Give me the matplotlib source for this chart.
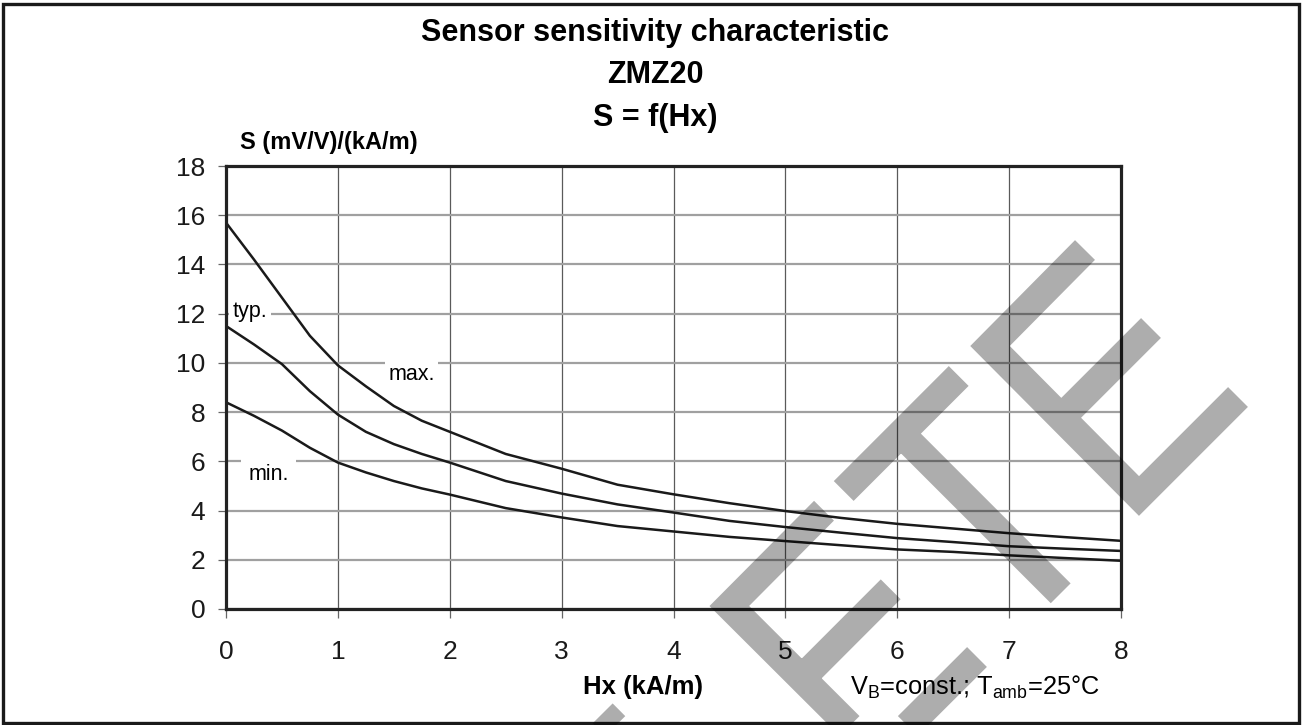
import matplotlib
matplotlib.use('Agg')
import matplotlib.pyplot as plt
from matplotlib.lines import Line2D
from matplotlib.patches import Rectangle

plt.rcParams['font.family'] = ['Liberation Sans', 'DejaVu Sans']
plt.rcParams['mathtext.fontset'] = 'custom'
plt.rcParams['mathtext.rm'] = 'Liberation Sans'

hx = [0, 0.25, 0.5, 0.75, 1, 1.25, 1.5, 1.75, 2, 2.5, 3, 3.5, 4, 4.5, 5, 5.5, 6, 6.5, 7, 7.5, 8]
s_max = [15.7, 14.2, 12.65, 11.1, 9.9, 9.05, 8.25, 7.65, 7.2, 6.3, 5.7, 5.05, 4.66, 4.3,
         3.98, 3.7, 3.46, 3.27, 3.08, 2.92, 2.77]
s_typ = [11.5, 10.75, 9.95, 8.85, 7.9, 7.2, 6.7, 6.3, 5.95, 5.2, 4.69, 4.25, 3.92, 3.58,
         3.33, 3.1, 2.88, 2.72, 2.55, 2.45, 2.36]
s_min = [8.4, 7.85, 7.25, 6.55, 5.95, 5.55, 5.2, 4.9, 4.65, 4.1, 3.72, 3.37, 3.15, 2.93,
         2.76, 2.59, 2.42, 2.32, 2.18, 2.07, 1.96]

x_ticks = [0, 1, 2, 3, 4, 5, 6, 7, 8]
y_ticks = [0, 2, 4, 6, 8, 10, 12, 14, 16, 18]

# Wasserzeichen (Pixel im Bild, y nach unten)
W, H = 1302, 725
wm_strokes = [
    [(602.7, 713.3), (660, 771)],
    [(824, 510.7), (729.3, 606), (878.7, 755), (977, 657)],
    [(801.7, 678.4), (890.7, 589.3)],
    [(843.7, 491), (958.7, 376)],
    [(901, 433.6), (1060.7, 593.3)],
    [(1085, 250), (990, 346), (1139, 496), (1238, 397)],
    [(1061.5, 417.5), (1151, 328)],
]

fig = plt.figure(figsize=(W / 100, H / 100), dpi=100)
ax = fig.add_axes([226 / W, 1 - 609 / H, (1121 - 226) / W, (609 - 166) / H])

ax.plot(hx, s_max, color='#1a1a1a', lw=1.8, zorder=2)
ax.plot(hx, s_typ, color='#1a1a1a', lw=1.8, zorder=2)
ax.plot(hx, s_min, color='#1a1a1a', lw=1.8, zorder=2)

ax.set_xlim(0, 8)
ax.set_ylim(0, 18)
ax.set_xticks(x_ticks)
ax.set_yticks(y_ticks)
ax.set_axisbelow(True)
ax.yaxis.grid(True, color='#a0a0a0', lw=1.6)
ax.xaxis.grid(True, color='#5a5a5a', lw=0.9)
for s in ax.spines.values():
    s.set_linewidth(2.3)
    s.set_color('#222222')
ax.tick_params(axis='x', direction='out', length=6.5, width=0.9, color='#666666',
               labelsize=19, pad=16, labelcolor='#1a1a1a')
ax.tick_params(axis='y', direction='out', length=6, width=0.9, color='#666666',
               labelsize=19, pad=9, labelcolor='#1a1a1a')

# Beschriftung der Kurven
box = dict(facecolor='white', edgecolor='none', pad=2.5)
ax.text(0.06, 11.85, 'typ.', fontsize=15.5, va='baseline', bbox=box, zorder=3)
ax.text(1.45, 9.3, 'max.', fontsize=15.5, va='baseline', bbox=box, zorder=3)
ax.text(0.2, 5.24, 'min.', fontsize=15.5, va='baseline',
        bbox=dict(facecolor='white', edgecolor='none', pad=5), zorder=3)

# Titel und Achsentitel
fig.text(0.503, 1 - 33 / H, 'Sensor sensitivity characteristic', ha='center', va='center',
         fontsize=22, fontweight='bold')
fig.text(0.503, 1 - 75 / H, 'ZMZ20', ha='center', va='center', fontsize=22, fontweight='bold')
fig.text(0.503, 1 - 118 / H, 'S = f(Hx)', ha='center', va='center', fontsize=22, fontweight='bold')
fig.text(240 / W, 1 - 143 / H, 'S (mV/V)/(kA/m)', ha='left', va='center', fontsize=17, fontweight='bold')
fig.text(583 / W, 1 - 687 / H, 'Hx (kA/m)', ha='left', va='center', fontsize=18.5, fontweight='bold')
fig.text(850 / W, 1 - 687 / H, r'V$_\mathregular{B}$=const.; T$_\mathregular{amb}$=25°C',
         ha='left', va='center', fontsize=18.3)

# Rahmen um das ganze Bild
fig.add_artist(Rectangle((3 / W, 2 / H), (1299 - 3) / W, (721 - 2) / H, transform=fig.transFigure,
                         fill=False, edgecolor='#1a1a1a', lw=2.4))

# Wasserzeichen
wx, wy = [], []
for stroke in wm_strokes:
    for px, py in stroke:
        wx.append(px / W)
        wy.append(1 - py / H)
    wx.append(float('nan'))
    wy.append(float('nan'))
fig.add_artist(Line2D(wx, wy, transform=fig.transFigure, color='black', alpha=0.32,
                      lw=20.2, solid_capstyle='butt', solid_joinstyle='miter', zorder=5))

plt.savefig('out.png', dpi=100)
